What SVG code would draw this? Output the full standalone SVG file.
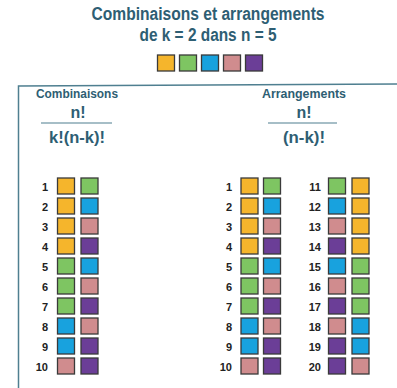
<svg xmlns="http://www.w3.org/2000/svg" width="397" height="388" viewBox="0 0 397 388">
<style>
.t{font-family:"Liberation Sans",Arial,sans-serif;font-weight:bold;fill:#2e5e73;text-anchor:middle}
.n{font-family:"Liberation Sans",Arial,sans-serif;font-weight:bold;fill:#222;font-size:11px;text-anchor:end}
rect.s{stroke:#3a3a3a;stroke-width:1.3;width:17px;height:16px}
.O{fill:#f5b52c}.G{fill:#7ec562}.B{fill:#18a2de}.P{fill:#d08c8e}.V{fill:#6b3e97}
</style>
<rect width="397" height="388" fill="#fff"/>
<g id="title">
<text class="t" x="208" y="19.5" font-size="17.5" textLength="233" lengthAdjust="spacingAndGlyphs">Combinaisons et arrangements</text>
<text class="t" x="208" y="40.5" font-size="17.5" textLength="137" lengthAdjust="spacingAndGlyphs">de k = 2 dans n = 5</text>
</g>
<g id="palette">
<rect class="s O" x="157.5" y="55"/><rect class="s G" x="179.5" y="55"/><rect class="s B" x="201.5" y="55"/><rect class="s P" x="223.5" y="55"/><rect class="s V" x="245.5" y="55"/>
</g>
<g id="frame" fill="none" stroke="#4f7f90" stroke-width="1.5">
<path d="M18.5 388 V86 L397 84"/>
</g>
<g id="comb-header">
<text class="t" x="77" y="98" font-size="12.5" textLength="82" lengthAdjust="spacingAndGlyphs">Combinaisons</text>
<text class="t" x="78" y="118" font-size="16">n!</text>
<line x1="41" y1="123" x2="112" y2="123" stroke="#4f7f90" stroke-width="1.2"/>
<text class="t" x="77" y="143" font-size="16" textLength="56" lengthAdjust="spacingAndGlyphs">k!(n-k)!</text>
</g>
<g id="arr-header">
<text class="t" x="304" y="98" font-size="12.5" textLength="84" lengthAdjust="spacingAndGlyphs">Arrangements</text>
<text class="t" x="304" y="118" font-size="16">n!</text>
<line x1="268" y1="123" x2="337" y2="123" stroke="#4f7f90" stroke-width="1.2"/>
<text class="t" x="304" y="143" font-size="16" textLength="42" lengthAdjust="spacingAndGlyphs">(n-k)!</text>
</g>
<g id="combinaisons">
<text class="n" x="48" y="191">1</text><rect class="s O" x="57.5" y="178"/><rect class="s G" x="81" y="178"/>
<text class="n" x="48" y="211">2</text><rect class="s O" x="57.5" y="198"/><rect class="s B" x="81" y="198"/>
<text class="n" x="48" y="231">3</text><rect class="s O" x="57.5" y="218"/><rect class="s P" x="81" y="218"/>
<text class="n" x="48" y="251">4</text><rect class="s O" x="57.5" y="238"/><rect class="s V" x="81" y="238"/>
<text class="n" x="48" y="271">5</text><rect class="s G" x="57.5" y="258"/><rect class="s B" x="81" y="258"/>
<text class="n" x="48" y="291">6</text><rect class="s G" x="57.5" y="278"/><rect class="s P" x="81" y="278"/>
<text class="n" x="48" y="311">7</text><rect class="s G" x="57.5" y="298"/><rect class="s V" x="81" y="298"/>
<text class="n" x="48" y="331">8</text><rect class="s B" x="57.5" y="318"/><rect class="s P" x="81" y="318"/>
<text class="n" x="48" y="351">9</text><rect class="s B" x="57.5" y="338"/><rect class="s V" x="81" y="338"/>
<text class="n" x="48" y="371">10</text><rect class="s P" x="57.5" y="358"/><rect class="s V" x="81" y="358"/>
</g>
<g id="arrangements">
<text class="n" x="232" y="191">1</text><rect class="s O" x="241" y="178"/><rect class="s G" x="263.5" y="178"/>
<text class="n" x="232" y="211">2</text><rect class="s O" x="241" y="198"/><rect class="s B" x="263.5" y="198"/>
<text class="n" x="232" y="231">3</text><rect class="s O" x="241" y="218"/><rect class="s P" x="263.5" y="218"/>
<text class="n" x="232" y="251">4</text><rect class="s O" x="241" y="238"/><rect class="s V" x="263.5" y="238"/>
<text class="n" x="232" y="271">5</text><rect class="s G" x="241" y="258"/><rect class="s B" x="263.5" y="258"/>
<text class="n" x="232" y="291">6</text><rect class="s G" x="241" y="278"/><rect class="s P" x="263.5" y="278"/>
<text class="n" x="232" y="311">7</text><rect class="s G" x="241" y="298"/><rect class="s V" x="263.5" y="298"/>
<text class="n" x="232" y="331">8</text><rect class="s B" x="241" y="318"/><rect class="s P" x="263.5" y="318"/>
<text class="n" x="232" y="351">9</text><rect class="s B" x="241" y="338"/><rect class="s V" x="263.5" y="338"/>
<text class="n" x="232" y="371">10</text><rect class="s P" x="241" y="358"/><rect class="s V" x="263.5" y="358"/>
<text class="n" x="321" y="191">11</text><rect class="s G" x="328.5" y="178"/><rect class="s O" x="352" y="178"/>
<text class="n" x="321" y="211">12</text><rect class="s B" x="328.5" y="198"/><rect class="s O" x="352" y="198"/>
<text class="n" x="321" y="231">13</text><rect class="s P" x="328.5" y="218"/><rect class="s O" x="352" y="218"/>
<text class="n" x="321" y="251">14</text><rect class="s V" x="328.5" y="238"/><rect class="s O" x="352" y="238"/>
<text class="n" x="321" y="271">15</text><rect class="s B" x="328.5" y="258"/><rect class="s G" x="352" y="258"/>
<text class="n" x="321" y="291">16</text><rect class="s P" x="328.5" y="278"/><rect class="s G" x="352" y="278"/>
<text class="n" x="321" y="311">17</text><rect class="s V" x="328.5" y="298"/><rect class="s G" x="352" y="298"/>
<text class="n" x="321" y="331">18</text><rect class="s P" x="328.5" y="318"/><rect class="s B" x="352" y="318"/>
<text class="n" x="321" y="351">19</text><rect class="s V" x="328.5" y="338"/><rect class="s B" x="352" y="338"/>
<text class="n" x="321" y="371">20</text><rect class="s V" x="328.5" y="358"/><rect class="s P" x="352" y="358"/>
</g>
</svg>
